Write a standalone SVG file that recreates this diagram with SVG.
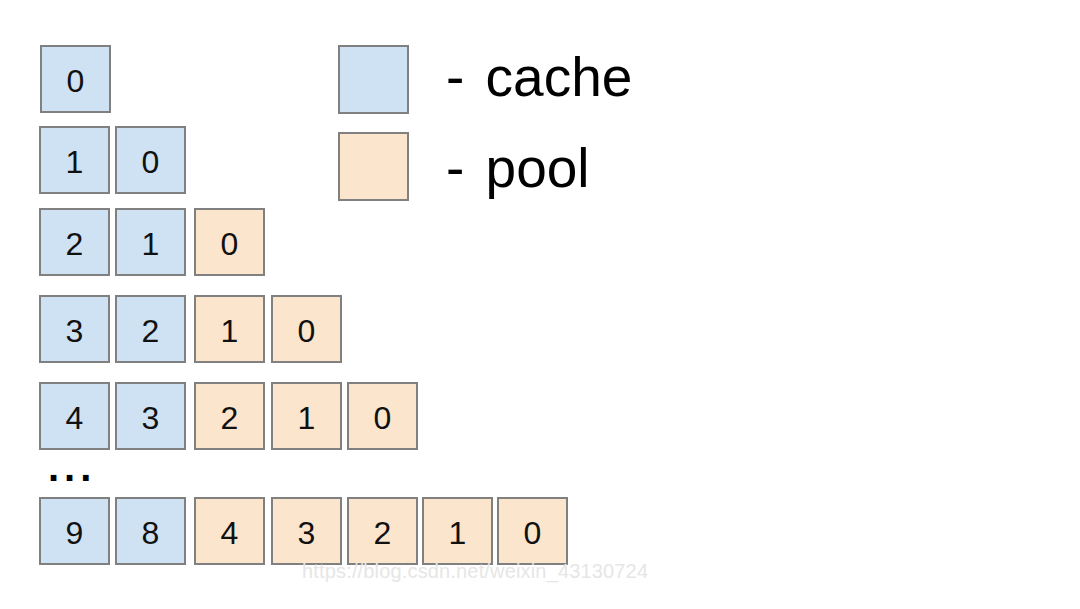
<svg xmlns="http://www.w3.org/2000/svg" width="1080" height="609" viewBox="0 0 1080 609">
<style>
.c{fill:#cfe2f3;stroke:#808080;stroke-width:2}
.p{fill:#fce5cd;stroke:#808080;stroke-width:2}
.d{font-family:"Liberation Sans",Arial,sans-serif;font-size:32px;fill:#111;text-anchor:middle}
.l{font-family:"Liberation Sans",Arial,sans-serif;font-size:55px;fill:#000}
</style>
<rect width="1080" height="609" fill="#fff"/>
<g id="legend-cache"><rect class="c" x="339" y="46" width="69" height="67"/><text class="l" x="446" y="96">- <tspan dx="6">cache</tspan></text></g>
<g id="legend-pool"><rect class="p" x="339" y="133" width="69" height="67"/><text class="l" x="446" y="187">- <tspan dx="6">pool</tspan></text></g>
<g id="row0">
<rect class="c" x="41" y="46" width="69" height="66"/><text class="d" x="75.5" y="92">0</text>
</g>
<g id="row1">
<rect class="c" x="40" y="127" width="69" height="66"/><text class="d" x="74.5" y="173">1</text>
<rect class="c" x="116" y="127" width="69" height="66"/><text class="d" x="150.5" y="173">0</text>
</g>
<g id="row2">
<rect class="c" x="40" y="209" width="69" height="66"/><text class="d" x="74.5" y="255">2</text>
<rect class="c" x="116" y="209" width="69" height="66"/><text class="d" x="150.5" y="255">1</text>
<rect class="p" x="195" y="209" width="69" height="66"/><text class="d" x="229.5" y="255">0</text>
</g>
<g id="row3">
<rect class="c" x="40" y="296" width="69" height="66"/><text class="d" x="74.5" y="342">3</text>
<rect class="c" x="116" y="296" width="69" height="66"/><text class="d" x="150.5" y="342">2</text>
<rect class="p" x="195" y="296" width="69" height="66"/><text class="d" x="229.5" y="342">1</text>
<rect class="p" x="272" y="296" width="69" height="66"/><text class="d" x="306.5" y="342">0</text>
</g>
<g id="row4">
<rect class="c" x="40" y="383" width="69" height="66"/><text class="d" x="74.5" y="429">4</text>
<rect class="c" x="116" y="383" width="69" height="66"/><text class="d" x="150.5" y="429">3</text>
<rect class="p" x="195" y="383" width="69" height="66"/><text class="d" x="229.5" y="429">2</text>
<rect class="p" x="272" y="383" width="69" height="66"/><text class="d" x="306.5" y="429">1</text>
<rect class="p" x="348" y="383" width="69" height="66"/><text class="d" x="382.5" y="429">0</text>
</g>
<text id="ellipsis" x="48" y="481" font-family="Liberation Sans,Arial,sans-serif" font-size="40" font-weight="bold" letter-spacing="5" fill="#000">...</text>
<g id="row9">
<rect class="c" x="40" y="498" width="69" height="66"/><text class="d" x="74.5" y="544">9</text>
<rect class="c" x="116" y="498" width="69" height="66"/><text class="d" x="150.5" y="544">8</text>
<rect class="p" x="195" y="498" width="69" height="66"/><text class="d" x="229.5" y="544">4</text>
<rect class="p" x="272" y="498" width="69" height="66"/><text class="d" x="306.5" y="544">3</text>
<rect class="p" x="348" y="498" width="69" height="66"/><text class="d" x="382.5" y="544">2</text>
<rect class="p" x="423" y="498" width="69" height="66"/><text class="d" x="457.5" y="544">1</text>
<rect class="p" x="498" y="498" width="69" height="66"/><text class="d" x="532.5" y="544">0</text>
</g>
<g id="connectors"/>
<text id="watermark" x="302" y="578" font-family="Liberation Sans,Arial,sans-serif" font-size="20" fill="#e6e6e6" textLength="346">https://blog.csdn.net/weixin_43130724</text>
</svg>
